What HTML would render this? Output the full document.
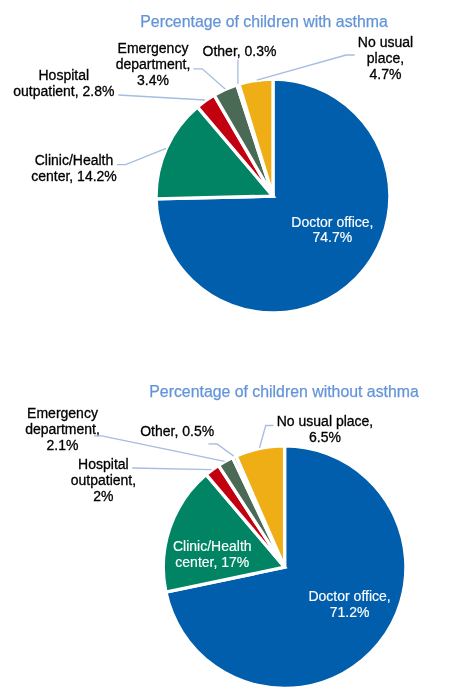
<!DOCTYPE html>
<html><head><meta charset="utf-8"><style>
html,body{margin:0;padding:0;background:#fff;width:449px;height:699px;overflow:hidden}
svg{display:block;will-change:transform;font-family:"Liberation Sans",sans-serif}
</style></head><body>
<svg width="449" height="699" viewBox="0 0 449 699">
<path d="M273.00,196.10 L273.00,79.20 A116.9,116.9 0 1 1 156.13,198.85 Z" fill="#005EAC" stroke="#fff" stroke-width="3.3" stroke-linejoin="miter"/>
<path d="M273.00,196.10 L156.13,198.85 A116.9,116.9 0 0 1 197.42,106.92 Z" fill="#008464" stroke="#fff" stroke-width="3.3" stroke-linejoin="miter"/>
<path d="M273.00,196.10 L197.42,106.92 A116.9,116.9 0 0 1 214.18,95.08 Z" fill="#C3000F" stroke="#fff" stroke-width="3.3" stroke-linejoin="miter"/>
<path d="M273.00,196.10 L214.18,95.08 A116.9,116.9 0 0 1 236.91,84.91 Z" fill="#4B6A56" stroke="#fff" stroke-width="3.3" stroke-linejoin="miter"/>
<path d="M273.00,196.10 L236.91,84.91 A116.9,116.9 0 0 1 239.01,84.25 Z" fill="#8C8C8C" stroke="#fff" stroke-width="3.3" stroke-linejoin="miter"/>
<path d="M273.00,196.10 L239.01,84.25 A116.9,116.9 0 0 1 273.00,79.20 Z" fill="#EFAE16" stroke="#fff" stroke-width="3.3" stroke-linejoin="miter"/>
<text x="140.3" y="26.7" fill="#6394D8" stroke="#6394D8" stroke-width="0.25" font-size="15.85">Percentage of children with asthma</text>
<text x="153" y="52.9" text-anchor="middle" fill="#000" stroke="#000" stroke-width="0.3" font-size="14">Emergency</text>
<text x="153" y="68.6" text-anchor="middle" fill="#000" stroke="#000" stroke-width="0.3" font-size="14">department,</text>
<text x="153" y="84.9" text-anchor="middle" fill="#000" stroke="#000" stroke-width="0.3" font-size="14">3.4%</text>
<text x="63.8" y="79.8" text-anchor="middle" fill="#000" stroke="#000" stroke-width="0.3" font-size="14">Hospital</text>
<text x="63.8" y="95.5" text-anchor="middle" fill="#000" stroke="#000" stroke-width="0.3" font-size="14">outpatient, 2.8%</text>
<text x="239.5" y="56.3" text-anchor="middle" fill="#000" stroke="#000" stroke-width="0.3" font-size="14">Other, 0.3%</text>
<text x="385.5" y="46.6" text-anchor="middle" fill="#000" stroke="#000" stroke-width="0.3" font-size="14">No usual</text>
<text x="385.5" y="62.7" text-anchor="middle" fill="#000" stroke="#000" stroke-width="0.3" font-size="14">place,</text>
<text x="385.5" y="79.3" text-anchor="middle" fill="#000" stroke="#000" stroke-width="0.3" font-size="14">4.7%</text>
<text x="74" y="165" text-anchor="middle" fill="#000" stroke="#000" stroke-width="0.3" font-size="14">Clinic/Health</text>
<text x="74" y="180.6" text-anchor="middle" fill="#000" stroke="#000" stroke-width="0.3" font-size="14">center, 14.2%</text>
<text x="332.4" y="226.8" text-anchor="middle" fill="#fff" stroke="#fff" stroke-width="0.15" font-size="14">Doctor office,</text>
<text x="332.4" y="242.4" text-anchor="middle" fill="#fff" stroke="#fff" stroke-width="0.15" font-size="14">74.7%</text>
<polyline points="193.3,68.8 202.2,68.8 225.2,88.9" fill="none" stroke="#A6BCE2" stroke-width="1.3"/>
<polyline points="237.9,59.5 237.9,84" fill="none" stroke="#A6BCE2" stroke-width="1.3"/>
<polyline points="354.6,55 346.1,55 256.8,80.2" fill="none" stroke="#A6BCE2" stroke-width="1.3"/>
<polyline points="118.3,95 205,100" fill="none" stroke="#A6BCE2" stroke-width="1.3"/>
<polyline points="117,164.6 125.6,164.6 166.1,148.3" fill="none" stroke="#A6BCE2" stroke-width="1.3"/>
<path d="M284.60,567.20 L284.60,445.90 A121.3,121.3 0 1 1 165.90,592.16 Z" fill="#005EAC" stroke="#fff" stroke-width="3.3" stroke-linejoin="miter"/>
<path d="M284.60,567.20 L165.90,592.16 A121.3,121.3 0 0 1 206.24,474.61 Z" fill="#008464" stroke="#fff" stroke-width="3.3" stroke-linejoin="miter"/>
<path d="M284.60,567.20 L206.24,474.61 A121.3,121.3 0 0 1 218.55,465.46 Z" fill="#C3000F" stroke="#fff" stroke-width="3.3" stroke-linejoin="miter"/>
<path d="M284.60,567.20 L218.55,465.46 A121.3,121.3 0 0 1 232.61,457.61 Z" fill="#4B6A56" stroke="#fff" stroke-width="3.3" stroke-linejoin="miter"/>
<path d="M284.60,567.20 L232.61,457.61 A121.3,121.3 0 0 1 236.11,456.02 Z" fill="#8C8C8C" stroke="#fff" stroke-width="3.3" stroke-linejoin="miter"/>
<path d="M284.60,567.20 L236.11,456.02 A121.3,121.3 0 0 1 284.60,445.90 Z" fill="#EFAE16" stroke="#fff" stroke-width="3.3" stroke-linejoin="miter"/>
<text x="149.3" y="396.7" fill="#6394D8" stroke="#6394D8" stroke-width="0.25" font-size="15.85">Percentage of children without asthma</text>
<text x="62.5" y="418" text-anchor="middle" fill="#000" stroke="#000" stroke-width="0.3" font-size="14">Emergency</text>
<text x="62.5" y="433.8" text-anchor="middle" fill="#000" stroke="#000" stroke-width="0.3" font-size="14">department,</text>
<text x="62.5" y="450" text-anchor="middle" fill="#000" stroke="#000" stroke-width="0.3" font-size="14">2.1%</text>
<text x="103.4" y="468.7" text-anchor="middle" fill="#000" stroke="#000" stroke-width="0.3" font-size="14">Hospital</text>
<text x="103.4" y="484.5" text-anchor="middle" fill="#000" stroke="#000" stroke-width="0.3" font-size="14">outpatient,</text>
<text x="103.4" y="500.9" text-anchor="middle" fill="#000" stroke="#000" stroke-width="0.3" font-size="14">2%</text>
<text x="177.2" y="435.6" text-anchor="middle" fill="#000" stroke="#000" stroke-width="0.3" font-size="14">Other, 0.5%</text>
<text x="325" y="425.8" text-anchor="middle" fill="#000" stroke="#000" stroke-width="0.3" font-size="14">No usual place,</text>
<text x="325" y="442.3" text-anchor="middle" fill="#000" stroke="#000" stroke-width="0.3" font-size="14">6.5%</text>
<text x="212.3" y="551.2" text-anchor="middle" fill="#fff" stroke="#fff" stroke-width="0.15" font-size="14">Clinic/Health</text>
<text x="212.3" y="566.7" text-anchor="middle" fill="#fff" stroke="#fff" stroke-width="0.15" font-size="14">center, 17%</text>
<text x="349.6" y="601.2" text-anchor="middle" fill="#fff" stroke="#fff" stroke-width="0.15" font-size="14">Doctor office,</text>
<text x="349.6" y="616.7" text-anchor="middle" fill="#fff" stroke="#fff" stroke-width="0.15" font-size="14">71.2%</text>
<polyline points="93.9,435.9 101.7,435.9 224.7,461.4" fill="none" stroke="#A6BCE2" stroke-width="1.3"/>
<polyline points="208.4,443.8 217,444 233.8,456.1" fill="none" stroke="#A6BCE2" stroke-width="1.3"/>
<polyline points="132.2,468 211.7,469.7" fill="none" stroke="#A6BCE2" stroke-width="1.3"/>
<polyline points="273.4,425.5 265.7,425.5 259.5,448" fill="none" stroke="#A6BCE2" stroke-width="1.3"/>
</svg></body></html>
